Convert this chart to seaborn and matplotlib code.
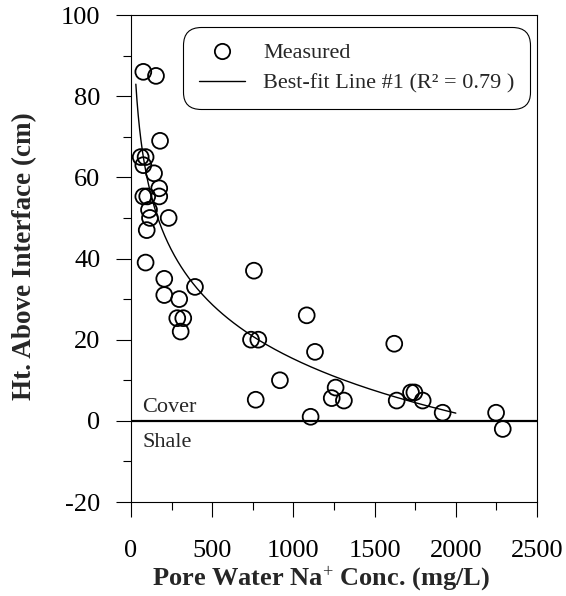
import numpy as np
import pandas as pd
import matplotlib
matplotlib.use("Agg")
import matplotlib.pyplot as plt
from matplotlib.lines import Line2D
from matplotlib.ticker import MultipleLocator
import seaborn as sns

# ---- data ----
na_conc = [76, 154, 179, 60, 90, 76, 142, 174, 174, 76, 100, 111, 117, 232,
           97, 90, 205, 205, 394, 297, 285, 322, 306, 757, 739, 784, 1082,
           1133, 917, 768, 1106, 1260, 1236, 1311, 1621, 1636, 1724, 1745,
           1796, 1919, 2248, 2289]
height = [86, 85, 69, 65, 65, 63, 61, 57.3, 55.3, 55.3, 55.3, 52, 50, 50,
          47, 39, 35, 31, 33, 30, 25.3, 25.3, 22, 37, 20, 20, 26,
          17, 10, 5.2, 1, 8.2, 5.6, 5, 19, 5, 7, 7,
          5, 2, 2, -2]

# best-fit line #1: height = fit_a - fit_b * ln(conc), drawn over fit_range
fit_a = 148.6
fit_b = 19.3
fit_range = [30, 2000]

x_ticks = [0, 500, 1000, 1500, 2000, 2500]
y_ticks = [-20, 0, 20, 40, 60, 80, 100]

df = pd.DataFrame({"conc": na_conc, "height": height})
fit_x = np.geomspace(fit_range[0], fit_range[1], 300)
fit_df = pd.DataFrame({"conc": fit_x, "height": fit_a - fit_b * np.log(fit_x)})

sns.set_style("ticks")
plt.rcParams["font.family"] = ["Liberation Serif", "DejaVu Serif"]
plt.rcParams["mathtext.fontset"] = "custom"
plt.rcParams["mathtext.rm"] = "Liberation Serif"
plt.rcParams["mathtext.bf"] = "Liberation Serif:bold"
plt.rcParams["mathtext.it"] = "Liberation Serif:italic"
plt.rcParams["axes.unicode_minus"] = False

fig = plt.figure(figsize=(5.66, 5.96), dpi=100)
ax = fig.add_axes([0.2314, 0.1577, 0.9488 - 0.2314, 0.9748 - 0.1577])

ax.axhline(0, color="black", lw=1.6, zorder=1)
sns.lineplot(data=fit_df, x="conc", y="height", ax=ax, color="black", lw=1.0,
             zorder=2, legend=False)
sns.scatterplot(data=df, x="conc", y="height", ax=ax, marker="o", s=130,
                zorder=3, legend=False)
pts = ax.collections[-1]
pts.set_facecolor("none")
pts.set_edgecolor("black")
pts.set_linewidth(1.3)

ax.set_xlim(0, 2500)
ax.set_ylim(-20, 100)
ax.set_xticks(x_ticks)
ax.set_yticks(y_ticks)
ax.xaxis.set_minor_locator(MultipleLocator(250))
ax.yaxis.set_minor_locator(MultipleLocator(10))
for s in ax.spines.values():
    s.set_visible(True)
    s.set_linewidth(0.8)
    s.set_color("black")
ax.tick_params(axis="both", which="major", direction="out", length=11,
               width=0.8, labelsize=19, colors="black")
ax.tick_params(axis="both", which="minor", direction="out", length=5.8,
               width=0.8, colors="black")
ax.tick_params(axis="x", which="major", pad=16)
ax.tick_params(axis="y", which="major", pad=11)

ax.set_xlabel("Pore Water Na$^{+}$ Conc. (mg/L)", fontsize=19,
              fontweight="bold")
ax.set_ylabel("Ht. Above Interface (cm)", fontsize=19.5, fontweight="bold")
ax.xaxis.set_label_coords(0.468, -0.127)
ax.yaxis.set_label_coords(-0.2315, 0.505)

ax.text(68, 1.0, "Cover", fontsize=16, ha="left", va="bottom")
ax.text(68, -3.0, "Shale", fontsize=16, ha="left", va="top")

handles = [
    Line2D([], [], marker="o", ls="none", markerfacecolor="none",
           markeredgecolor="black", markersize=11, markeredgewidth=1.3),
    Line2D([], [], color="black", lw=1.0),
]
labels = ["Measured", "Best-fit Line #1 (R\u00b2 = 0.79 )"]
leg = ax.legend(handles, labels, loc="upper right",
                bbox_to_anchor=(0.983, 0.975), fontsize=16, frameon=True,
                fancybox=True, framealpha=1, edgecolor="black",
                borderpad=0.7, handlelength=2.1, handletextpad=0.8,
                labelspacing=0.45, borderaxespad=0)
frame = leg.get_frame()
frame.set_linewidth(0.8)
frame.set_boxstyle("round,pad=0,rounding_size=0.8")

fig.savefig("out.png", dpi=100, facecolor="white")
